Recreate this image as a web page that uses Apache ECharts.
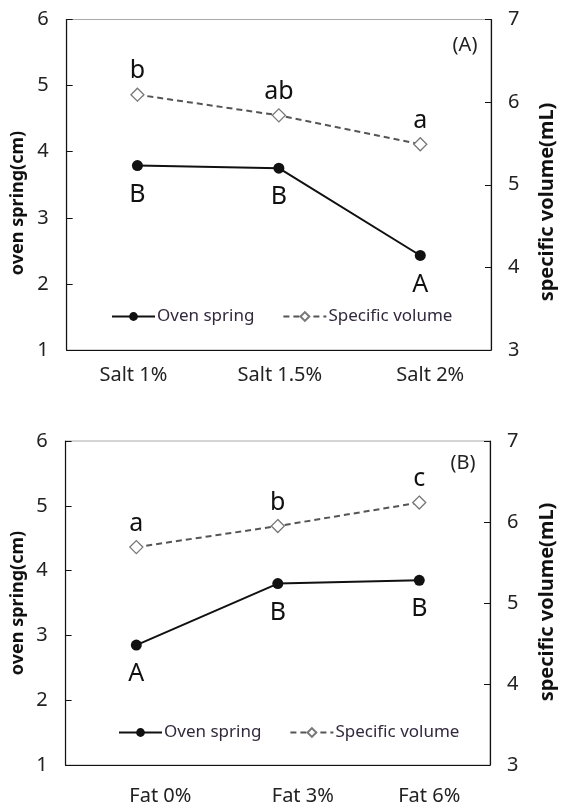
<!DOCTYPE html>
<html><head><meta charset="utf-8">
<script src="https://cdn.jsdelivr.net/npm/echarts@6/dist/echarts.min.js"></script>
<style>html,body{margin:0;padding:0;background:#fff}#c{width:565px;height:806px}</style>
</head><body><div id="c"></div>
<script>
var saltCategories = ['Salt 1%', 'Salt 1.5%', 'Salt 2%'];
var saltOvenSpring = [3.79, 3.75, 2.43];
var saltSpecificVolume = [6.09, 5.84, 5.49];
var saltOvenLetters = ['B', 'B', 'A'];
var saltVolumeLetters = ['b', 'ab', 'a'];

var fatCategories = ['Fat 0%', 'Fat 3%', 'Fat 6%'];
var fatOvenSpring = [2.85, 3.80, 3.85];
var fatSpecificVolume = [5.69, 5.95, 6.24];
var fatOvenLetters = ['A', 'B', 'B'];
var fatVolumeLetters = ['a', 'b', 'c'];

var leftTicks = [1, 6];   // min, max
var rightTicks = [3, 7];  // min, max

var FONT = '"Noto Sans", "Open Sans", sans-serif';
var chart = echarts.init(document.getElementById('c'));

function cats(list, shifts) {
  return list.map(function (v, i) {
    var s = shifts[i];
    return { value: v, textStyle: { padding: s >= 0 ? [0, 0, 0, 2 * s] : [0, -2 * s, 0, 0] } };
  });
}
function withLetters(vals, letters) {
  return vals.map(function (v, i) { return { value: v, label: { formatter: letters[i] } }; });
}

var grids = [
  { left: 66.7, right: 74, top: 19.5, height: 330.5, containLabel: false, show: true, borderColor: '#aaa', borderWidth: 1 },
  { left: 65.6, right: 75, top: 441, height: 324, containLabel: false, show: true, borderColor: '#aaa', borderWidth: 1 }
];

function xAxis(gi, data, shifts, margin) {
  return {
    type: 'category', gridIndex: gi, data: cats(data, shifts), boundaryGap: true,
    axisLine: { lineStyle: { color: '#111', width: 1.2 } },
    axisTick: { show: false },
    axisLabel: { color: '#222', fontSize: 20, fontFamily: FONT, margin: margin },
    splitLine: { show: false }
  };
}
function yAxis(gi, pos, mm, margin) {
  return {
    type: 'value', gridIndex: gi, position: pos, min: mm[0], max: mm[1], interval: 1,
    axisLine: { show: true, lineStyle: { color: '#111', width: 1.2 } },
    axisTick: { show: true, inside: true, length: 6, lineStyle: { color: '#111' } },
    axisLabel: { color: '#222', fontSize: 20, fontFamily: FONT, margin: margin },
    splitLine: { show: false }
  };
}

function ovenSeries(gi, vals, letters) {
  return {
    name: 'Oven spring', type: 'line', xAxisIndex: gi, yAxisIndex: gi * 2,
    data: withLetters(vals, letters),
    symbol: 'circle', symbolSize: 11,
    itemStyle: { color: '#111' },
    lineStyle: { color: '#111', width: 2 },
    label: { show: true, position: 'bottom', distance: 11, fontSize: 25, color: '#111', fontFamily: FONT },
    z: 3
  };
}
function volSeries(gi, vals, letters) {
  return {
    name: 'Specific volume', type: 'line', xAxisIndex: gi, yAxisIndex: gi * 2 + 1,
    data: withLetters(vals, letters),
    symbol: 'diamond', symbolSize: 13,
    itemStyle: { color: '#fff', borderColor: '#777', borderWidth: 1.3 },
    lineStyle: { color: '#555', width: 2, type: [6, 4] },
    label: { show: true, position: 'top', distance: 4, fontSize: 25, color: '#111', fontFamily: FONT },
    z: 2
  };
}

function legend(left, top) {
  return {
    left: left, top: top, itemWidth: 43, itemHeight: 11, itemGap: 28,
    textStyle: { fontSize: 17, color: '#33283d', fontFamily: FONT, padding: [0, 0, 0, -3] },
    selectedMode: false,
    data: ['Oven spring', 'Specific volume']
  };
}

function vtext(x, y, text, size) {
  return { type: 'text', x: x, y: y, rotation: Math.PI / 2,
    style: { text: text, fontSize: size, fontWeight: 'bold', fontFamily: FONT, fill: '#111', align: 'center', verticalAlign: 'middle' } };
}
function ptext(x, y, text) {
  return { type: 'text', x: x, y: y,
    style: { text: text, fontSize: 20, fontFamily: FONT, fill: '#222', align: 'center', verticalAlign: 'middle' } };
}

chart.setOption({
  backgroundColor: '#fff',
  animation: false,
  grid: grids,
  xAxis: [xAxis(0, saltCategories, [-4, 1, 10], 15), xAxis(1, fatCategories, [24, 25, 10], 21)],
  yAxis: [yAxis(0, 'left', leftTicks, 18), yAxis(0, 'right', rightTicks, 17),
          yAxis(1, 'left', leftTicks, 18), yAxis(1, 'right', rightTicks, 17)],
  legend: [legend(106, 303), legend(113, 719)],
  series: [
    ovenSeries(0, saltOvenSpring, saltOvenLetters), volSeries(0, saltSpecificVolume, saltVolumeLetters),
    ovenSeries(1, fatOvenSpring, fatOvenLetters), volSeries(1, fatSpecificVolume, fatVolumeLetters)
  ],
  graphic: [
    vtext(18, 203, 'oven spring(cm)', 18), vtext(547, 202, 'specific volume(mL)', 20),
    vtext(18, 603, 'oven spring(cm)', 18), vtext(547, 602, 'specific volume(mL)', 20),
    ptext(465, 45, '(A)'), ptext(463, 463, '(B)')
  ]
});
</script></body></html>
